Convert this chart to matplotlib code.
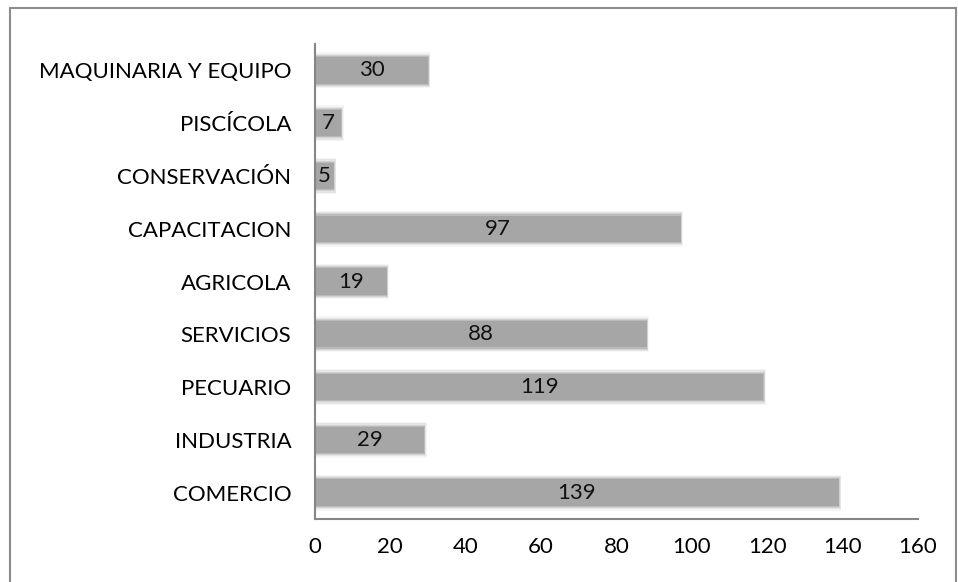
import matplotlib.pyplot as plt
import matplotlib.patches as mpatches

##### data
categorias = ['COMERCIO', 'INDUSTRIA', 'PECUARIO', 'SERVICIOS', 'AGRICOLA',
              'CAPACITACION', 'CONSERVACIÓN', 'PISCÍCOLA', 'MAQUINARIA Y EQUIPO']
valores = [139, 29, 119, 88, 19, 97, 5, 7, 30]
ticks_x = [0, 20, 40, 60, 80, 100, 120, 140, 160]

plt.rcParams['font.family'] = ['Lato', 'DejaVu Sans']
fs = 16

fig = plt.figure(figsize=(9.58, 5.82), dpi=100)
ax = fig.add_axes([315/958, 1 - 519/582, (918-315)/958, (519-44)/582])

pos = list(range(len(categorias)))

# soft glow around the bars
for k, a in [(0.68, 0.08), (0.63, 0.14), (0.58, 0.22), (0.54, 0.3)]:
    ax.barh(pos, [v + (k - 0.5) * 3.5 for v in valores], height=k,
            color='#8a8a8a', alpha=a, linewidth=0)
ax.barh(pos, valores, height=0.5, color='#a6a6a6', linewidth=0)

# value labels
for p, v in zip(pos, valores):
    ax.text(v / 2, p, str(v), ha='center', va='center', fontsize=fs, color='#111111')

ax.set_xlim(0, 160)
ax.set_ylim(-0.5, len(categorias) - 0.5)
ax.set_xticks(ticks_x)
ax.set_xticklabels([str(t) for t in ticks_x], fontsize=fs)
ax.set_yticks(pos)
ax.set_yticklabels(categorias, fontsize=fs)
ax.tick_params(axis='both', length=0)
ax.tick_params(axis='x', pad=13)
ax.tick_params(axis='y', pad=17)

for s in ['top', 'right']:
    ax.spines[s].set_visible(False)
for s in ['left', 'bottom']:
    ax.spines[s].set_color('#868686')
    ax.spines[s].set_linewidth(1.5)

# outer chart border
fig.patches.append(mpatches.Rectangle((10/958, -0.01), (956-10)/958, 1 - 8/582 + 0.01,
                                      transform=fig.transFigure, fill=False,
                                      edgecolor='#8c8c8c', linewidth=1.5))

plt.savefig('out.png', dpi=100)
